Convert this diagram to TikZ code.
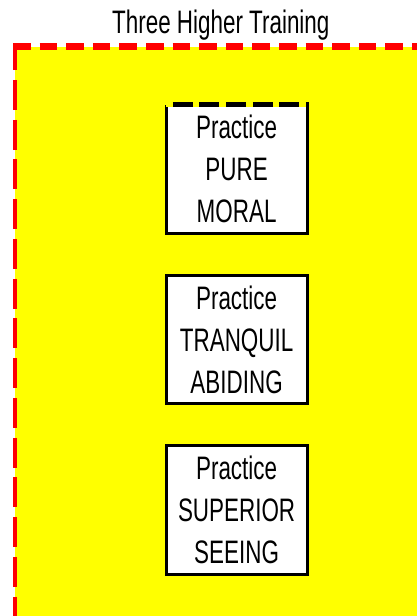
\documentclass[tikz,border=0pt]{standalone}
\usepackage{fontspec}
\setmainfont[FakeStretch=0.69]{Liberation Sans}
\definecolor{bgyellow}{RGB}{255,255,0}
\definecolor{dashred}{RGB}{255,0,0}
\begin{document}
\begin{tikzpicture}[x=1pt,y=-1pt,
  txt/.style={font=\fontsize{32.5}{42}\selectfont, inner sep=0pt, outer sep=0pt},
  box/.style={fill=white, minimum width=141pt, minimum height=128.7pt, align=center,
              inner sep=0pt, outer sep=0pt, font=\fontsize{32.5}{42}\selectfont},
  border/.style={draw=black, line width=3pt},
  redline/.style={draw=dashred},
]
\useasboundingbox (0,0) rectangle (417,616);
% yellow panel
\fill[bgyellow] (15,46.7) rectangle (417,616);
\coordinate (tl) at (13,46.7);
\coordinate (tr) at (417,46.7);
\coordinate (lt) at (15,43.3);
\coordinate (lb) at (15,616);
\draw[redline, line width=6.7pt, dash pattern=on 17.5pt off 9.1pt] (tl) -- (tr);
\draw[redline, line width=4pt, dash pattern=on 30pt off 9.75pt, dash phase=3.3pt] (lt) -- (lb);
% title
\node[txt, anchor=base] (title) at (220.8,33.3) {Three Higher Training};
% boxes
\node[box] (b1) at (236.6,168.9) {Practice\\PURE\\MORAL};
\node[box] (b2) at (236.6,339.4) {Practice\\TRANQUIL\\ABIDING};
\node[box] (b3) at (236.6,509.7) {Practice\\SUPERIOR\\SEEING};
% borders
\draw[border] (b1.north west) -- (b1.south west) -- (b1.south east) -- (b1.north east);
\draw[bgyellow, line width=5.6pt] (b1.north west) -- (b1.north east);
\draw[black, line width=5.6pt, dash pattern=on 20pt off 6.67pt, dash phase=20pt] (b1.north west) -- ([xshift=1.5pt]b1.north east);
\draw[border] (b2.south west) rectangle (b2.north east);
\draw[border] (b3.south west) rectangle (b3.north east);
\end{tikzpicture}
\end{document}
